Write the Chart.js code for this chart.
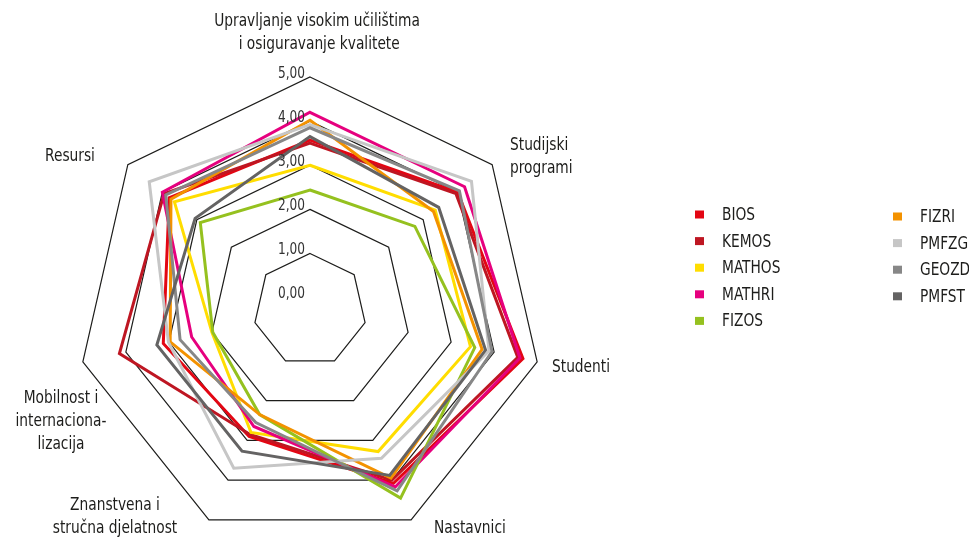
<!DOCTYPE html>
<html>
<head>
<meta charset="utf-8">
<script src="https://cdn.jsdelivr.net/npm/chart.js@4.4.1/dist/chart.umd.min.js"></script>
<style>
html,body{margin:0;padding:0;background:#fff;overflow:hidden;}
#wrap{width:969px;height:538px;position:relative;}
</style>
</head>
<body>
<div id="wrap"><canvas id="c" width="969" height="538"></canvas></div>
<script>
// ---- data ----
const categories = [
  ["Upravljanje visokim učilištima", " i osiguravanje kvalitete"],
  ["Studijski", "programi"],
  ["Studenti"],
  ["Nastavnici"],
  ["Znanstvena i", "stručna djelatnost"],
  ["Mobilnost i", "internaciona-", "lizacija"],
  ["Resursi"]
];
const seriesNames = ["BIOS","KEMOS","MATHOS","MATHRI","FIZOS","FIZRI","PMFZG","GEOZD","PMFST"];
const BIOS   = [3.57, 4.00, 4.67, 4.08, 2.90, 3.13, 3.80];
const KEMOS  = [3.50, 3.95, 4.55, 4.00, 2.85, 4.15, 3.95];
const MATHOS = [3.00, 3.35, 3.45, 3.28, 2.80, 2.00, 3.65];
const MATHRI = [4.20, 4.20, 4.60, 4.17, 2.65, 2.47, 4.00];
const FIZOS  = [2.44, 2.76, 3.55, 4.45, 2.35, 1.98, 2.90];
const FIZRI  = [4.02, 3.30, 3.72, 3.95, 2.35, 2.97, 3.75];
const PMFZG  = [3.92, 4.40, 3.88, 3.45, 3.70, 3.01, 4.38];
const GEOZD  = [3.85, 4.05, 3.95, 4.27, 2.55, 2.74, 3.90];
const PMFST  = [3.65, 3.45, 3.80, 3.88, 3.27, 3.28, 3.05];
const tickValues = [0, 1, 2, 3, 4, 5];
const tickLabels = ["0,00", "1,00", "2,00", "3,00", "4,00", "5,00"];

// ---- styles ----
const seriesValues = [BIOS, KEMOS, MATHOS, MATHRI, FIZOS, FIZRI, PMFZG, GEOZD, PMFST];
const colors = ["#E30613","#BE1622","#FFDD00","#E6007E","#95C11F","#F39200","#C6C6C6","#878787","#646363"];
const FONT = '"DejaVu Sans Condensed", "Liberation Sans Narrow", "DejaVu Sans", sans-serif';
const TEXT = '#1d1d1b';
const SQUEEZE = 0.9;
const geom = {cx: 310, cy: 310, r: 233, min: -0.28, max: 5};
// point-label placement (text layout only)
const labelLayout = [
  {x: 317, y: 22, align: 'center'},
  {x: 510, y: 146, align: 'left'},
  {x: 552, y: 368, align: 'left'},
  {x: 434, y: 529, align: 'left'},
  {x: 115, y: 506, align: 'center'},
  {x: 61,  y: 399, align: 'center'},
  {x: 70,  y: 157, align: 'center'}
];
const lineH = 23;
const legendLayout = {col1x: 695, col2x: 893, textDx: 27, y0: 214.5, dy: 26.6, perCol: 5, col2dy: 2};

const datasets = seriesNames.map((n, i) => ({
  label: n,
  data: seriesValues[i],
  borderColor: colors[i],
  backgroundColor: colors[i],
  borderWidth: 3,
  fill: false,
  pointRadius: 0,
  pointHoverRadius: 0,
  borderJoinStyle: 'miter',
  tension: 0,
  clip: false,
  order: seriesNames.length - i
}));

function drawText(ctx, text, x, y, align) {
  ctx.save();
  ctx.translate(x, y);
  ctx.scale(SQUEEZE, 1);
  ctx.textAlign = align;
  ctx.fillText(text, 0, 0);
  ctx.restore();
}

const textPlugin = {
  id: 'texts',
  afterDraw(chart) {
    const ctx = chart.ctx;
    const s = chart.scales.r;
    ctx.save();
    // tick labels
    ctx.font = '15px ' + FONT;
    ctx.fillStyle = '#333';
    ctx.textBaseline = 'alphabetic';
    tickValues.forEach((v, i) => {
      const y = s.yCenter - s.getDistanceFromCenterForValue(v);
      drawText(ctx, tickLabels[i], s.xCenter - 5, y + 0.5, 'right');
    });
    // point labels
    ctx.font = '17px ' + FONT;
    ctx.fillStyle = TEXT;
    ctx.textBaseline = 'middle';
    chart.data.labels.forEach((lab, i) => {
      const L = labelLayout[i];
      lab.forEach((line, j) => drawText(ctx, line, L.x, L.y + j * lineH, L.align));
    });
    // legend
    chart.data.datasets.forEach((ds, i) => {
      const col = i < legendLayout.perCol ? 0 : 1;
      const row = col === 0 ? i : i - legendLayout.perCol;
      const x = col === 0 ? legendLayout.col1x : legendLayout.col2x;
      const y = legendLayout.y0 + row * legendLayout.dy + col * legendLayout.col2dy;
      ctx.fillStyle = ds.borderColor;
      ctx.fillRect(x, y - 4, 9, 8);
      ctx.fillStyle = TEXT;
      drawText(ctx, ds.label, x + legendLayout.textDx, y + 1, 'left');
    });
    ctx.restore();
  }
};

new Chart(document.getElementById('c'), {
  type: 'radar',
  data: {labels: categories, datasets},
  options: {
    responsive: false,
    animation: false,
    devicePixelRatio: 1,
    plugins: {legend: {display: false}, tooltip: {enabled: false}},
    elements: {line: {borderJoinStyle: 'miter'}},
    scales: {
      r: {
        min: geom.min,
        max: geom.max,
        afterBuildTicks: (scale) => { scale.ticks = tickValues.map(v => ({value: v})); },
        afterFit: (scale) => { scale.xCenter = geom.cx; scale.yCenter = geom.cy; scale.drawingArea = geom.r; },
        ticks: {display: false},
        pointLabels: {display: false},
        angleLines: {display: false},
        grid: {
          color: (c) => (c.tick && c.tick.value === 0) ? 'rgba(0,0,0,0)' : '#1d1d1b',
          lineWidth: 1.2
        }
      }
    }
  },
  plugins: [textPlugin]
});
</script>
</body>
</html>
